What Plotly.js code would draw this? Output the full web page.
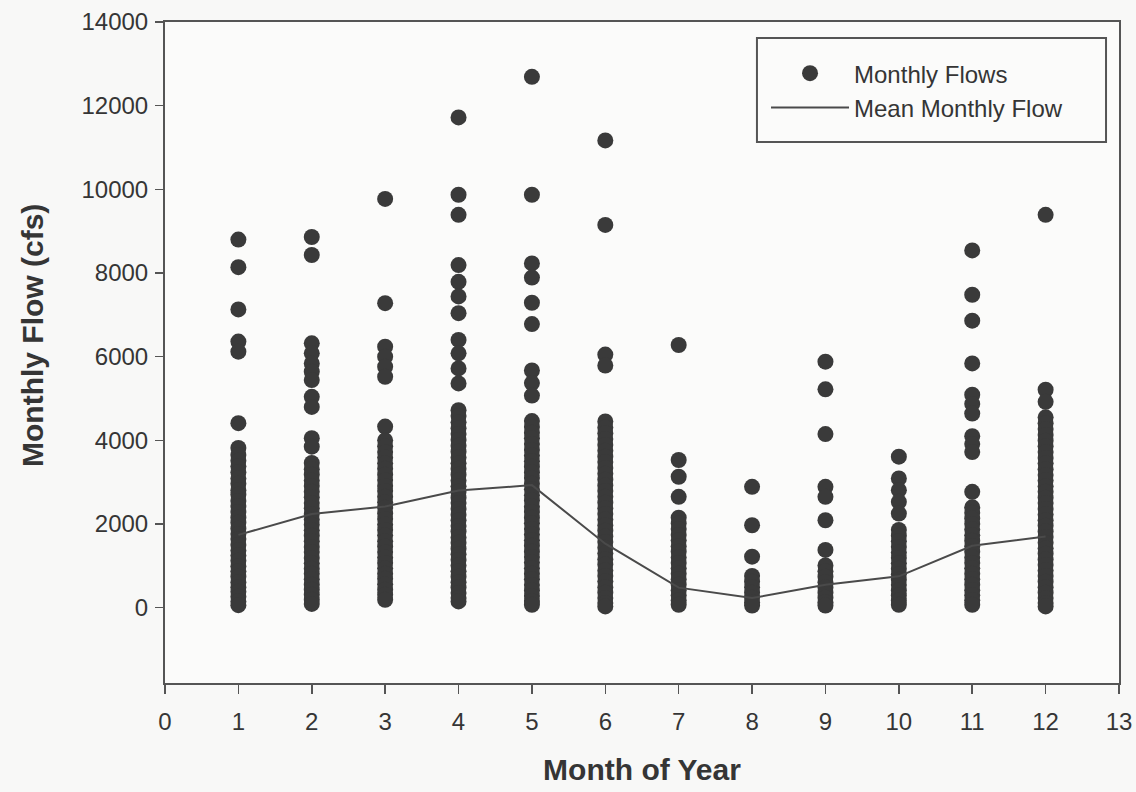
<!DOCTYPE html>
<html>
<head>
<meta charset="utf-8">
<script src="https://cdn.plot.ly/plotly-3.0.1.min.js"></script>
<style>html,body{margin:0;padding:0;background:#f8f8f7;}#chart{width:1136px;height:792px;}</style>
</head>
<body>
<div id="chart"></div>
<script>
// Monthly flow values (cfs), one array per month
const months = [1,2,3,4,5,6,7,8,9,10,11,12];
const flow1 = [8800,8140,7130,6360,6120,4410,3820,3650,3510,3380,3240,3090,2960,2810,2700,2550,2430,2290,2150,2030,1890,1760,1640,1500,1370,1250,1120,990,870,740,610,490,380,260,150,60];
const flow2 = [8860,8430,6320,6080,5840,5640,5440,5040,4800,4050,3850,3460,3310,3180,3040,2910,2770,2640,2500,2380,2240,2110,1980,1850,1720,1590,1450,1330,1190,1060,930,810,680,550,430,310,190,90];
const flow3 = [9770,7280,6240,6000,5760,5520,4330,4000,3860,3720,3590,3450,3320,3180,3050,2910,2790,2650,2520,2390,2250,2120,1990,1860,1730,1590,1460,1330,1200,1070,940,810,690,560,430,310,190];
const flow4 = [11720,9870,9390,8190,7790,7440,7040,6400,6080,5720,5360,4720,4580,4430,4290,4150,4010,3870,3730,3590,3450,3320,3180,3040,2900,2770,2630,2500,2360,2220,2090,1950,1820,1680,1550,1410,1280,1140,1010,870,740,610,480,350,230,150];
const flow5 = [12690,9870,8230,7890,7290,6780,5670,5370,5070,4460,4320,4180,4050,3910,3770,3640,3500,3370,3230,3100,2960,2830,2690,2560,2420,2290,2150,2020,1880,1750,1610,1480,1340,1210,1080,940,810,680,540,410,280,160,70];
const flow6 = [11170,9150,6050,5790,4450,4310,4170,4030,3890,3750,3610,3480,3340,3200,3060,2920,2790,2650,2510,2380,2240,2110,1970,1840,1700,1570,1430,1300,1160,1030,890,760,630,490,360,230,110,30];
const flow7 = [6280,3530,3130,2650,2150,2010,1880,1740,1610,1470,1340,1200,1070,940,810,680,550,420,300,180,70];
const flow8 = [2890,1970,1220,760,620,490,360,240,130,50];
const flow9 = [5880,5220,4150,2890,2650,2090,1380,1010,870,740,610,480,360,240,130,50];
const flow10 = [3610,3090,2810,2530,2250,1860,1720,1590,1450,1320,1190,1060,930,800,670,540,410,290,170,70];
const flow11 = [8540,7480,6860,5840,5090,4870,4640,4100,3910,3720,2770,2400,2270,2130,2000,1870,1730,1600,1470,1340,1200,1070,940,810,680,550,420,300,180,70];
const flow12 = [9390,5210,4920,4550,4410,4270,4130,3990,3860,3720,3580,3450,3310,3170,3040,2900,2770,2630,2500,2360,2230,2090,1960,1820,1690,1550,1420,1290,1150,1020,890,760,620,490,360,230,110,30];
const meanFlow = [1740,2240,2420,2800,2930,1530,480,230,550,750,1480,1700];
const xTicks = [0,1,2,3,4,5,6,7,8,9,10,11,12,13];
const yTicks = [0,2000,4000,6000,8000,10000,12000,14000];

const flows = [flow1,flow2,flow3,flow4,flow5,flow6,flow7,flow8,flow9,flow10,flow11,flow12];
const xs = [], ys = [];
flows.forEach((arr, i) => arr.forEach(v => { xs.push(months[i]); ys.push(v); }));

const FONT = 'Liberation Sans, Arial, Helvetica, sans-serif';
const INK = '#353535';

const traces = [
  {
    type: 'scatter', mode: 'markers', name: 'Monthly Flows',
    x: xs, y: ys,
    marker: {size: 16, color: '#3a3a3a', line: {width: 0}}
  },
  {
    type: 'scatter', mode: 'lines', name: 'Mean Monthly Flow',
    x: months, y: meanFlow,
    line: {color: '#4a4a4a', width: 2}
  }
];

const layout = {
  width: 1136, height: 792,
  margin: {l: 165, r: 17, t: 22, b: 109},
  paper_bgcolor: '#f8f8f7',
  plot_bgcolor: '#fbfbfa',
  font: {family: FONT, color: INK, size: 24},
  showlegend: true,
  legend: {
    x: 0.63, y: 0.956, xanchor: 'left', yanchor: 'top',
    bgcolor: 'rgba(0,0,0,0)', borderwidth: 0,
    font: {family: FONT, size: 24, color: INK},
    itemwidth: 78,
    tracegroupgap: 0
  },
  shapes: [{
    type: 'rect', xref: 'paper', yref: 'paper',
    x0: 0.6205, x1: 0.9864, y0: 0.8185, y1: 0.9758,
    line: {color: '#555', width: 2}, fillcolor: '#fbfbfa', layer: 'below'
  }],
  annotations: [{
    text: '<b>Monthly Flow (cfs)</b>', xref: 'paper', yref: 'paper',
    x: -0.1384, y: 0.5265, xanchor: 'center', yanchor: 'middle',
    textangle: -90, showarrow: false,
    font: {family: FONT, size: 30, color: INK}
  }],
  xaxis: {
    range: [0, 13], tickvals: xTicks, ticktext: xTicks.map(String),
    showgrid: false, zeroline: false,
    showline: true, linecolor: '#555', linewidth: 2, mirror: true,
    ticks: 'outside', ticklen: 9, tickwidth: 1.5, tickcolor: '#555',
    ticklabelstandoff: 7,
    tickfont: {family: FONT, size: 24, color: INK},
    title: {text: 'Month of Year', font: {family: FONT, size: 30, color: INK, weight: 'bold'}, standoff: 25}
  },
  yaxis: {
    range: [-1800, 14000], tickvals: yTicks, ticktext: yTicks.map(String),
    showgrid: false, zeroline: false,
    showline: true, linecolor: '#555', linewidth: 2, mirror: true,
    ticks: 'outside', ticklen: 8, tickwidth: 1.5, tickcolor: '#555',
    ticklabelstandoff: 2,
    tickfont: {family: FONT, size: 24, color: INK}
  }
};

Plotly.newPlot('chart', traces, layout, {displayModeBar: false, staticPlot: true});
</script>
</body>
</html>
